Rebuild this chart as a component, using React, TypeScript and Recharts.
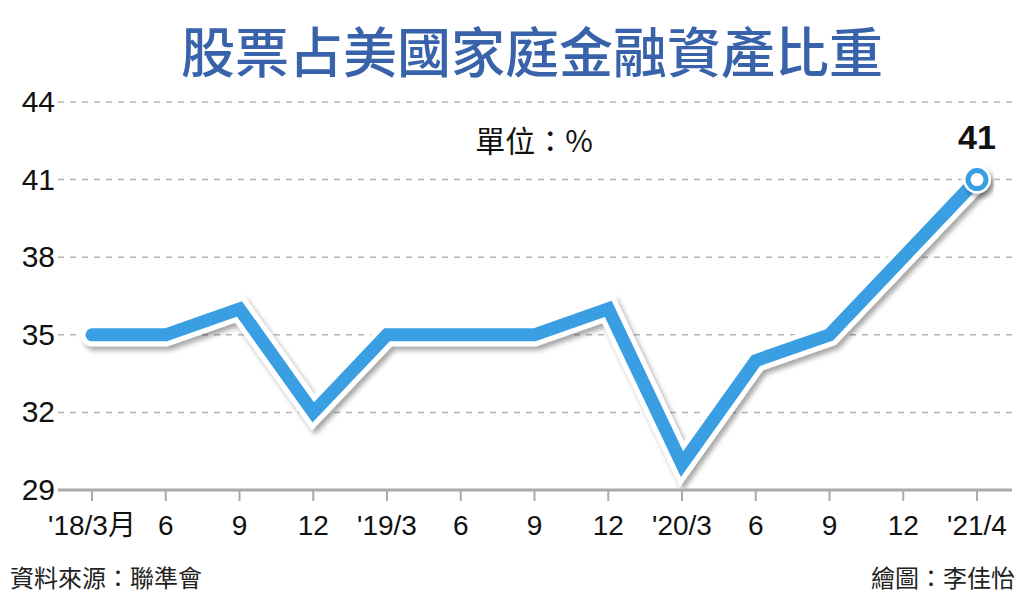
import { LineChart, Line, XAxis, YAxis, CartesianGrid } from 'recharts'

const periods = ["'18/3月", '6', '9', '12', "'19/3", '6', '9', '12', "'20/3", '6', '9', '12', "'21/4"]
const stockShare = [35, 35, 36, 32, 35, 35, 35, 36, 30, 34, 35, 38, 41]
const yTicks = [29, 32, 35, 38, 41, 44]

const data = periods.map((label, i) => ({ label, value: stockShare[i] }))
const lastIndex = data.length - 1

const BLUE = '#3a9fe2'
const FONT = '"Liberation Sans", Arial, "Noto Sans CJK TC", sans-serif'
const CJK = '"Noto Sans CJK TC", "Liberation Sans", sans-serif'

const YTick = ({ y, payload }: any) => (
  <text x={55} y={y} dy={10} textAnchor="end" fontSize={30} fontFamily={FONT} fill="#111">
    {payload.value}
  </text>
)

const EndDot = ({ cx, cy, index }: any) => {
  if (index !== lastIndex) return null
  return (
    <g>
      <circle cx={cx} cy={cy} r={14} fill="#fff" filter="url(#lineShadow)" />
      <circle cx={cx} cy={cy} r={9} fill="#fff" stroke={BLUE} strokeWidth={5} />
    </g>
  )
}

const EndLabel = ({ x, y, index, value }: any) => {
  if (index !== lastIndex) return null
  return (
    <text x={x} y={y - 31} textAnchor="middle" fontSize={34} fontWeight="bold" fontFamily={FONT} fill="#111">
      {value}
    </text>
  )
}

export default function App() {
  return (
    <div style={{ position: 'fixed', top: 0, left: 0, width: 1024, height: 597, background: '#fff' }}>
      <svg width={0} height={0} style={{ position: 'absolute' }}>
        <defs>
          <filter id="lineShadow" x="-10%" y="-10%" width="120%" height="130%">
            <feDropShadow dx={3} dy={4} stdDeviation={2.5} floodColor="#000" floodOpacity={0.35} />
          </filter>
        </defs>
      </svg>
      <div
        style={{
          position: 'absolute', top: 19, left: 0, width: 1064, textAlign: 'center',
          fontFamily: CJK, fontWeight: 500, fontSize: 54, color: '#3862a9', lineHeight: '62px',
        }}
      >
        股票占美國家庭金融資產比重
      </div>
      <div
        style={{
          position: 'absolute', top: 119, left: 434, width: 200, textAlign: 'center',
          fontFamily: CJK, fontSize: 30, color: '#111', lineHeight: '40px',
        }}
      >
        單位：%
      </div>
      <LineChart width={1024} height={597} data={data} margin={{ top: 102, right: 12, bottom: 47, left: 0 }}>
        <CartesianGrid vertical={false} stroke="#b5b5b5" strokeDasharray="6 6" strokeWidth={1.5} />
        <YAxis
          domain={[29, 44]}
          ticks={yTicks}
          width={58}
          axisLine={false}
          tickLine={false}
          tick={<YTick />}
        />
        <XAxis
          dataKey="label"
          height={60}
          padding={{ left: 34, right: 35 }}
          stroke="#aaa"
          axisLine={{ stroke: '#aaa', strokeWidth: 3 }}
          tickLine={{ stroke: '#aaa', strokeWidth: 2 }}
          tickSize={11}
          tickMargin={14}
          interval={0}
          tick={{ fontSize: 28, fontFamily: FONT, fill: '#111' }}
        />
        <Line
          dataKey="value"
          stroke="#fff"
          strokeWidth={23}
          strokeLinejoin="miter"
          strokeLinecap="round"
          dot={false}
          activeDot={false}
          filter="url(#lineShadow)"
          isAnimationActive={false}
        />
        <Line
          dataKey="value"
          stroke={BLUE}
          strokeWidth={13}
          strokeLinejoin="miter"
          strokeLinecap="round"
          dot={<EndDot />}
          activeDot={false}
          label={<EndLabel />}
          isAnimationActive={false}
        />
      </LineChart>
      <div style={{ position: 'absolute', top: 562, left: 10, fontFamily: CJK, fontSize: 24, color: '#222', lineHeight: '30px' }}>
        資料來源：聯準會
      </div>
      <div style={{ position: 'absolute', top: 562, right: 9, fontFamily: CJK, fontSize: 24, color: '#222', lineHeight: '30px' }}>
        繪圖：李佳怡
      </div>
    </div>
  )
}
